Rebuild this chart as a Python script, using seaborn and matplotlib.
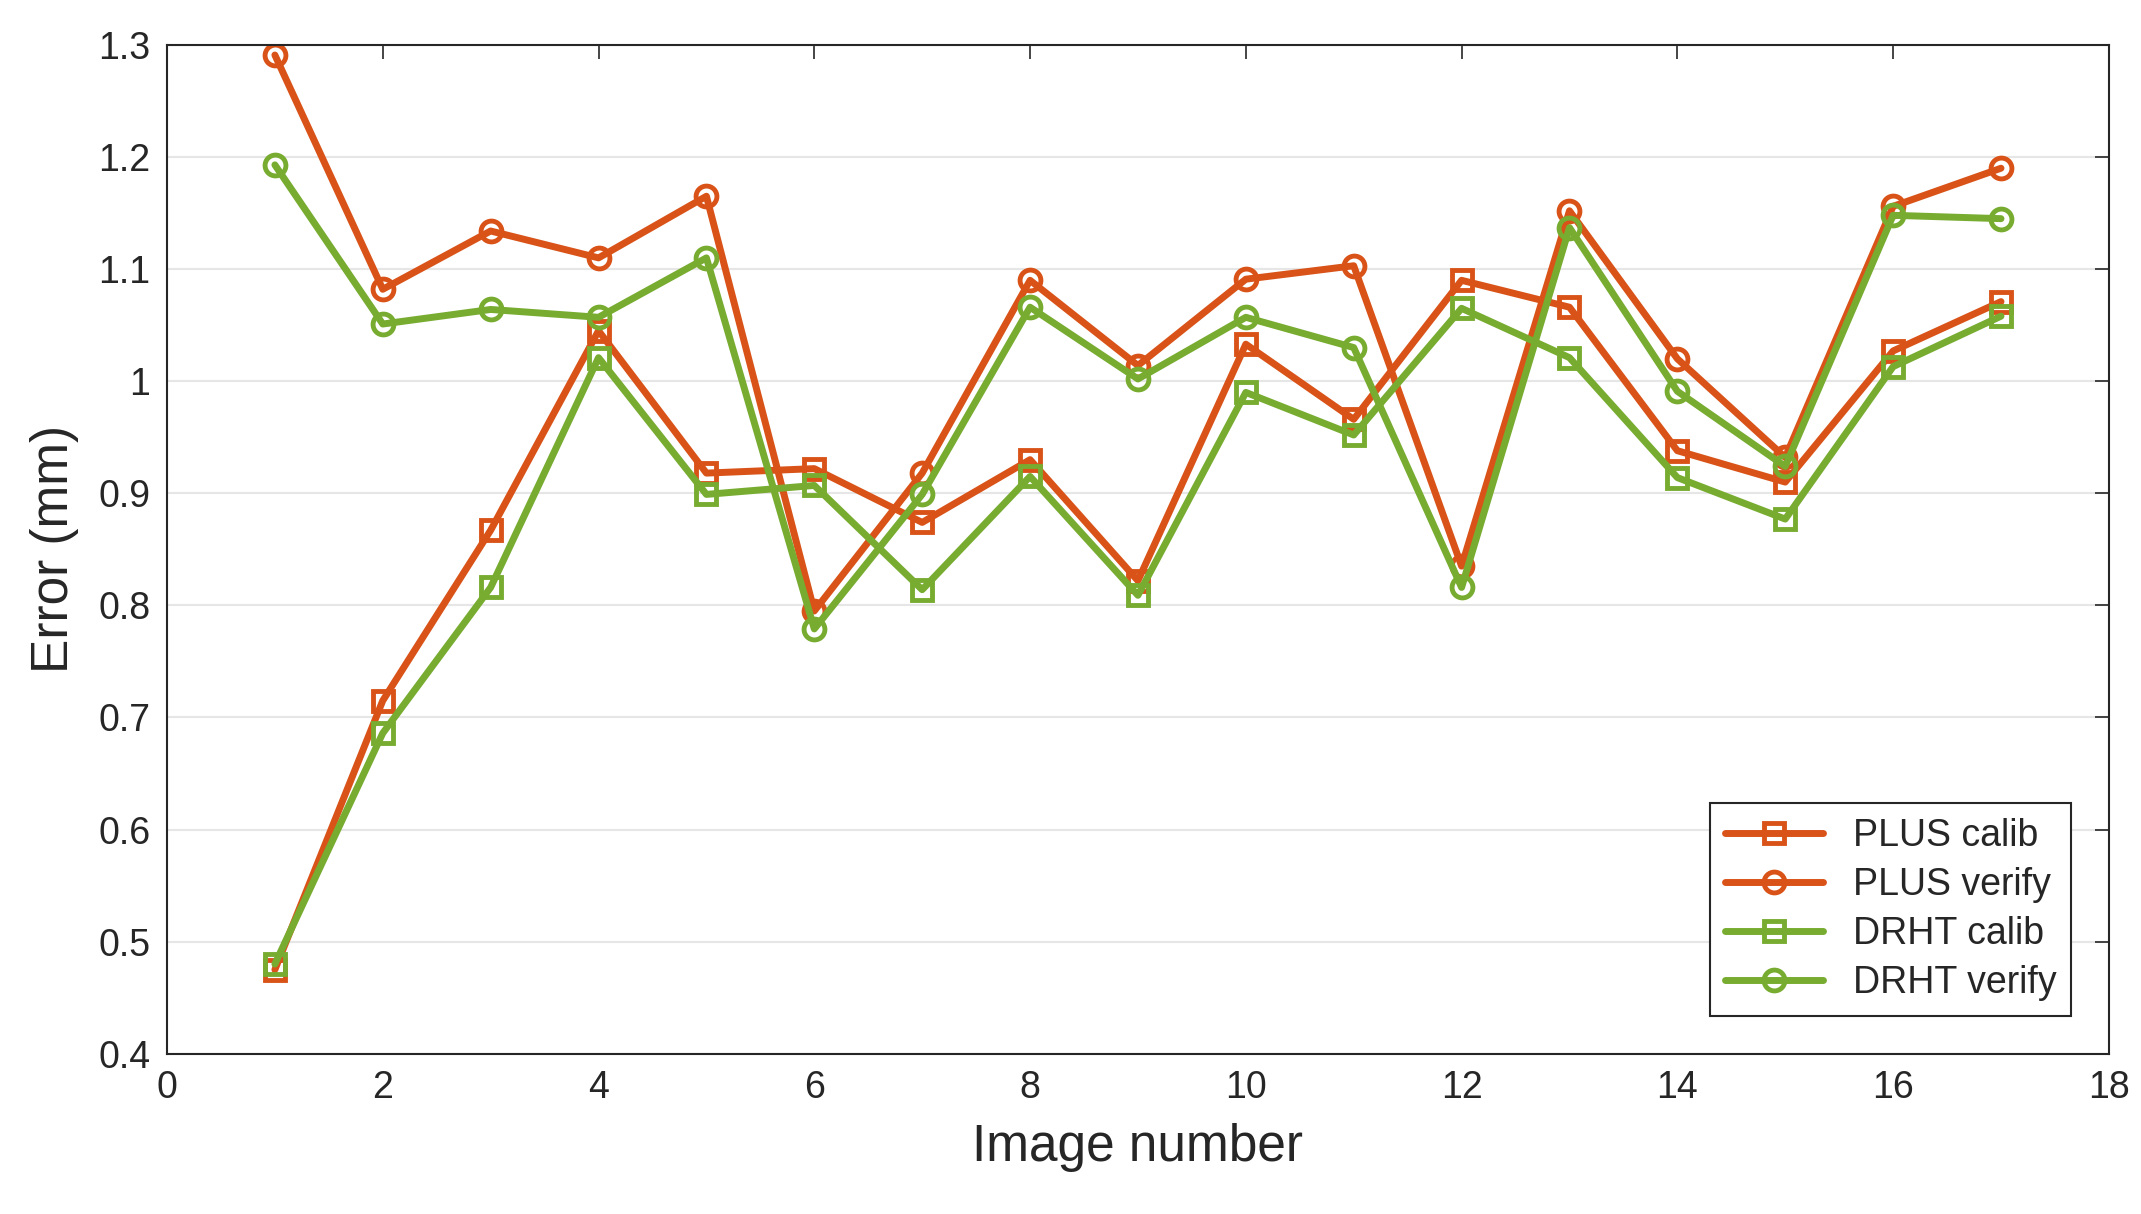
import matplotlib
matplotlib.use('Agg')
import matplotlib.pyplot as plt
import seaborn as sns
import pandas as pd

images = list(range(1, 18))
plus_calib = [0.475, 0.715, 0.867, 1.045, 0.918, 0.922, 0.874, 0.930, 0.822, 1.033, 0.966, 1.090, 1.066, 0.938, 0.910, 1.027, 1.071]
plus_verify = [1.291, 1.082, 1.134, 1.110, 1.165, 0.795, 0.918, 1.090, 1.014, 1.091, 1.103, 0.835, 1.152, 1.020, 0.932, 1.156, 1.190]
drht_calib = [0.480, 0.686, 0.816, 1.021, 0.899, 0.907, 0.814, 0.915, 0.809, 0.990, 0.952, 1.065, 1.021, 0.914, 0.877, 1.013, 1.058]
drht_verify = [1.193, 1.051, 1.064, 1.057, 1.110, 0.779, 0.899, 1.066, 1.002, 1.057, 1.030, 0.816, 1.137, 0.991, 0.924, 1.148, 1.145]

orange = '#D95319'
green = '#77AC30'
series = [('PLUS calib', plus_calib, orange, 's'),
          ('PLUS verify', plus_verify, orange, 'o'),
          ('DRHT calib', drht_calib, green, 's'),
          ('DRHT verify', drht_verify, green, 'o')]

sns.set_style('white')
plt.rcParams['font.family'] = ['Arial', 'Liberation Sans', 'DejaVu Sans']

fig = plt.figure(figsize=(21.41, 12.14), dpi=100)
ax = fig.add_axes([0.078, 0.132, 0.907, 0.831])

for name, vals, col, mk in series:
    df = pd.DataFrame({'x': images, 'y': vals})
    sns.lineplot(data=df, x='x', y='y', ax=ax, color=col, marker=mk, lw=5,
                 markersize=15, markerfacecolor='none', markeredgecolor=col,
                 markeredgewidth=3.5, label=name)

ax.set_xlim(0, 18)
ax.set_ylim(0.4, 1.3)
ax.set_xticks(range(0, 19, 2))
ax.set_yticks([0.4, 0.5, 0.6, 0.7, 0.8, 0.9, 1.0, 1.1, 1.2, 1.3])
ax.set_yticklabels(['0.4', '0.5', '0.6', '0.7', '0.8', '0.9', '1', '1.1', '1.2', '1.3'])
ax.grid(axis='y', color='#e6e6e6', lw=1.5)
ax.tick_params(labelsize=27, direction='in', length=10, width=1.2, top=True, right=True, pad=12)
for s in ax.spines.values():
    s.set_color('#262626')
    s.set_linewidth(1.5)
ax.set_xlabel('Image number', fontsize=37, labelpad=12)
ax.set_ylabel('Error (mm)', fontsize=37, labelpad=14)
leg = ax.legend(loc='lower right', fontsize=27, fancybox=False, framealpha=1,
                edgecolor='#262626', handlelength=2.6, borderaxespad=1.0,
                labelspacing=0.35)
leg.get_frame().set_linewidth(1.5)

fig.savefig('out.png', dpi=100)
